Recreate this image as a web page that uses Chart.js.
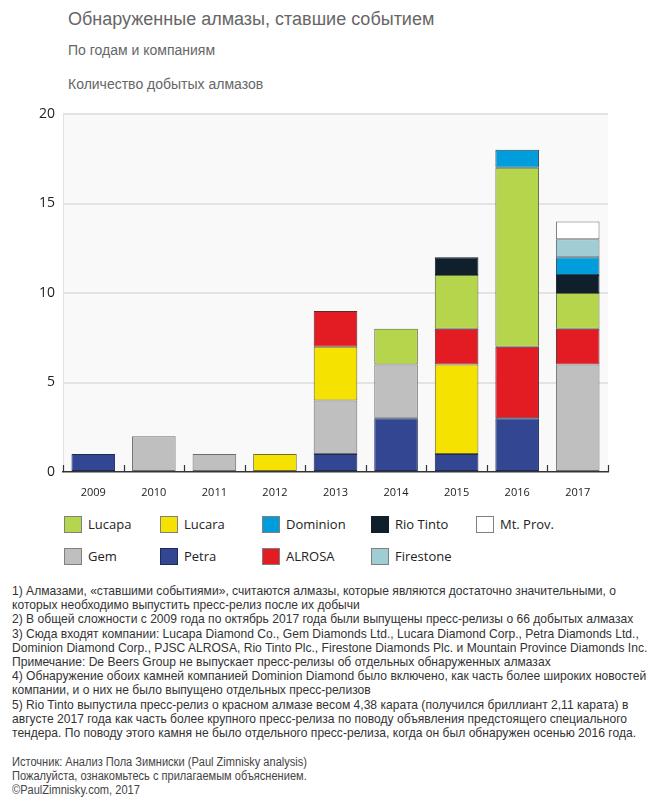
<!DOCTYPE html>
<html>
<head>
<meta charset="utf-8">
<script src="https://cdn.jsdelivr.net/npm/chart.js@4.4.1/dist/chart.umd.min.js"></script>
<style>
  html, body { margin: 0; padding: 0; background: #fff; }
  #wrap { position: relative; width: 650px; height: 805px; overflow: hidden; }
  .t { position: absolute; white-space: nowrap; font-family: "Liberation Sans", Arial, sans-serif; color: #666; }
  #title { left: 68px; top: 9px; font-size: 18px; line-height: 20px; }
  #sub1 { left: 68px; top: 42px; font-size: 14px; line-height: 16px; }
  #sub2 { left: 68px; top: 76px; font-size: 14px; line-height: 16px; }
  #chartBox { position: absolute; left: 0; top: 0; width: 650px; height: 505px; }
  .leg { position: absolute; font-family: "Open Sans", "Noto Sans", sans-serif; font-size: 13px; color: #222; line-height: 17px; white-space: nowrap; }
  .leg .box { position: absolute; left: 0; top: 0; width: 16px; height: 15px; border: 1px solid #808080; }
  .leg .lab { position: absolute; left: 24px; top: 0; }
  #notes { position: absolute; left: 12px; top: 584px; font-family: "Liberation Sans", Arial, sans-serif; font-size: 13.5px; line-height: 14.2px; color: #333; white-space: nowrap; transform: scaleX(0.895); transform-origin: 0 0; }
  #source { position: absolute; left: 12px; top: 755px; font-family: "Liberation Sans", Arial, sans-serif; font-size: 12.5px; line-height: 14px; color: #444; white-space: nowrap; transform: scaleX(0.885); transform-origin: 0 0; }
</style>
</head>
<body>
<div id="wrap">
  <div class="t" id="title">Обнаруженные алмазы, ставшие событием</div>
  <div class="t" id="sub1">По годам и компаниям</div>
  <div class="t" id="sub2">Количество добытых алмазов</div>
  <div id="chartBox"><canvas id="c" width="650" height="505"></canvas></div>
  <div id="legend"></div>
  <div id="notes">
    1) Алмазами, «ставшими событиями», считаются алмазы, которые являются достаточно значительными, о<br>
    которых необходимо выпустить пресс-релиз после их добычи<br>
    2) В общей сложности с 2009 года по октябрь 2017 года были выпущены пресс-релизы о 66 добытых алмазах<br>
    3) Сюда входят компании: Lucapa Diamond Co., Gem Diamonds Ltd., Lucara Diamond Corp., Petra Diamonds Ltd.,<br>
    Dominion Diamond Corp., PJSC ALROSA, Rio Tinto Plc., Firestone Diamonds Plc. и Mountain Province Diamonds Inc.<br>
    Примечание: De Beers Group не выпускает пресс-релизы об отдельных обнаруженных алмазах<br>
    4) Обнаружение обоих камней компанией Dominion Diamond было включено, как часть более широких новостей<br>
    компании, и о них не было выпущено отдельных пресс-релизов<br>
    5) Rio Tinto выпустила пресс-релиз о красном алмазе весом 4,38 карата (получился бриллиант 2,11 карата) в<br>
    августе 2017 года как часть более крупного пресс-релиза по поводу объявления предстоящего специального<br>
    тендера. По поводу этого камня не было отдельного пресс-релиза, когда он был обнаружен осенью 2016 года.
  </div>
  <div id="source">
    Источник: Анализ Пола Зимниски (Paul Zimnisky analysis)<br>
    Пожалуйста, ознакомьтесь с прилагаемым объяснением.<br>
    ©PaulZimnisky.com, 2017
  </div>
</div>
<script>
// ---- data ----
const years = ['2009', '2010', '2011', '2012', '2013', '2014', '2015', '2016', '2017'];
const petra     = [1, null, null, null, 1, 3, 1, 3, null];
const gem       = [null, 2, 1, null, 3, 3, null, null, 6];
const lucara    = [null, null, null, 1, 3, null, 5, null, null];
const alrosa    = [null, null, null, null, 2, null, 2, 4, 2];
const lucapa    = [null, null, null, null, null, 2, 3, 10, 2];
const rioTinto  = [null, null, null, null, null, null, 1, null, 1];
const dominion  = [null, null, null, null, null, null, null, 1, 1];
const firestone = [null, null, null, null, null, null, null, null, 1];
const mtProv    = [null, null, null, null, null, null, null, null, 1];
const yTicks = [0, 5, 10, 15, 20];

// stacking order bottom -> top
const series = [
  { name: 'Petra',     data: petra,     color: '#324691', border: '#1f2a55' },
  { name: 'Gem',       data: gem,       color: '#bfbfbf', border: '#6e6e6e' },
  { name: 'Lucara',    data: lucara,    color: '#f5e200', border: '#6e6a30' },
  { name: 'ALROSA',    data: alrosa,    color: '#e31b23', border: '#5a2a2a' },
  { name: 'Lucapa',    data: lucapa,    color: '#b5d64c', border: '#5e6b3a' },
  { name: 'Rio Tinto', data: rioTinto,  color: '#0f1f2c', border: '#0f1f2c' },
  { name: 'Dominion',  data: dominion,  color: '#009ddc', border: '#2a4a5a' },
  { name: 'Firestone', data: firestone, color: '#a0ccd3', border: '#5f6f72' },
  { name: 'Mt. Prov.', data: mtProv,    color: '#ffffff', border: '#6e6e6e' }
];

// legend layout (grid order)
const legendRows = [
  ['Lucapa', 'Lucara', 'Dominion', 'Rio Tinto', 'Mt. Prov.'],
  ['Gem', 'Petra', 'ALROSA', 'Firestone']
];
const legendX = [64, 160, 262, 371, 476];
const legendY = [516, 548];
const legendEl = document.getElementById('legend');
legendRows.forEach((row, r) => {
  row.forEach((name, i) => {
    const s = series.find(d => d.name === name);
    const item = document.createElement('div');
    item.className = 'leg';
    item.style.left = legendX[i] + 'px';
    item.style.top = legendY[r] + 'px';
    item.innerHTML = '<span class="box" style="background:' + s.color + ';border-color:' + (name === 'Petra' || name === 'Rio Tinto' ? s.border : '#808080') + '"></span><span class="lab">' + name + '</span>';
    legendEl.appendChild(item);
  });
});

const plotBg = {
  id: 'plotBg',
  beforeDraw(chart) {
    const { ctx, chartArea: a } = chart;
    ctx.save();
    ctx.fillStyle = '#f9f9f9';
    ctx.fillRect(a.left, a.top, a.right - a.left, a.bottom - a.top);
    ctx.strokeStyle = '#e2e2e2';
    ctx.lineWidth = 1;
    ctx.beginPath();
    ctx.moveTo(a.left + 0.5, a.top);
    ctx.lineTo(a.left + 0.5, a.bottom);
    ctx.stroke();
    ctx.restore();
  },
  afterDraw(chart) {
    const { ctx, chartArea: a, scales } = chart;
    const xs = scales.x;
    ctx.save();
    ctx.strokeStyle = '#333';
    ctx.lineWidth = 1.2;
    ctx.beginPath();
    for (let i = 0; i <= years.length; i++) {
      const x = Math.round(xs.getPixelForValue(i - 0.5)) + 0.5;
      ctx.moveTo(x, a.bottom);
      ctx.lineTo(x, a.bottom - 7);
    }
    ctx.stroke();
    ctx.restore();
  }
};

new Chart(document.getElementById('c'), {
  type: 'bar',
  data: {
    labels: years,
    datasets: series.map(s => ({
      label: s.name,
      data: s.data,
      backgroundColor: s.color,
      borderColor: s.border,
      borderWidth: 1,
      borderSkipped: false,
      barPercentage: 0.72,
      categoryPercentage: 1.0
    }))
  },
  options: {
    responsive: false,
    animation: false,
    devicePixelRatio: 1,
    layout: { padding: { top: 114, left: 0, right: 42, bottom: 0 } },
    plugins: { legend: { display: false }, tooltip: { enabled: false }, title: { display: false } },
    scales: {
      x: {
        stacked: true,
        grid: { display: false, drawTicks: false },
        border: { display: true, color: '#333', width: 1.5 },
        ticks: { color: '#222', font: { family: 'Open Sans', size: 11 }, padding: 14 },
        afterFit(scale) { scale.height = 33; }
      },
      y: {
        stacked: true,
        min: 0,
        max: 20,
        afterBuildTicks(scale) { scale.ticks = yTicks.map(v => ({ value: v })); },
        grid: {
          color: ctx => (ctx.tick && ctx.tick.value === 0 ? 'rgba(0,0,0,0)' : '#e3e3e3'),
          lineWidth: 2,
          drawTicks: false
        },
        border: { display: false },
        ticks: { color: '#222', font: { family: 'Open Sans', size: 14 }, padding: 8 },
        afterFit(scale) { scale.width = 63; }
      }
    }
  },
  plugins: [plotBg]
});
</script>
</body>
</html>
